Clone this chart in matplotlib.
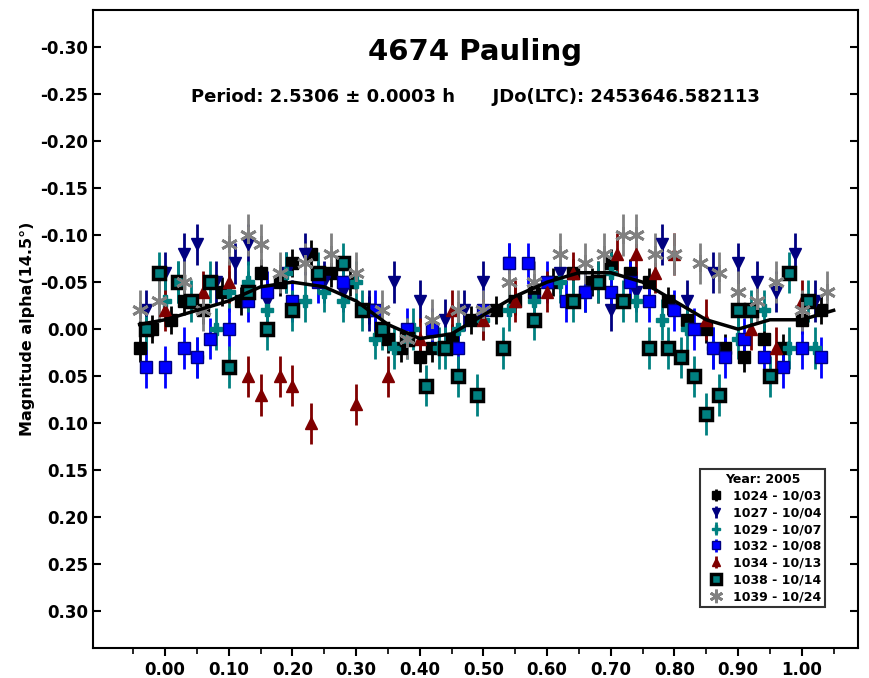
import matplotlib
matplotlib.use("Agg")
import matplotlib.pyplot as plt

# --- data (phase, magnitude, error) ---
s1024_x = [-0.04,-0.02,0.01,0.03,0.06,0.09,0.12,0.15,0.18,0.20,0.23,0.26,0.29,0.32,0.35,0.37,0.40,0.42,0.45,0.48,0.52,0.55,0.58,0.61,0.64,0.67,0.70,0.73,0.76,0.79,0.82,0.85,0.88,0.91,0.94,0.97,1.00,1.03]
s1024_y = [0.02,0.00,-0.01,-0.03,-0.02,-0.04,-0.03,-0.06,-0.05,-0.07,-0.08,-0.06,-0.05,-0.02,0.01,0.02,0.03,0.02,0.01,-0.01,-0.02,-0.03,-0.04,-0.05,-0.06,-0.05,-0.07,-0.06,-0.05,-0.03,-0.01,0.00,0.02,0.03,0.01,0.02,-0.01,-0.02]
s1027_x = [-0.03,0.00,0.03,0.05,0.08,0.11,0.13,0.16,0.19,0.22,0.25,0.28,0.32,0.36,0.40,0.44,0.47,0.50,0.54,0.58,0.62,0.66,0.70,0.74,0.78,0.82,0.86,0.90,0.93,0.96,0.99,1.02]
s1027_y = [-0.02,-0.06,-0.08,-0.09,-0.05,-0.07,-0.09,-0.03,-0.06,-0.08,-0.05,-0.04,-0.02,-0.05,-0.03,-0.01,-0.02,-0.05,-0.07,-0.03,-0.06,-0.04,-0.02,-0.04,-0.09,-0.03,-0.06,-0.07,-0.05,-0.04,-0.08,-0.03]
s1029_x = [-0.03,0.00,0.02,0.05,0.08,0.10,0.13,0.16,0.19,0.22,0.25,0.28,0.30,0.33,0.36,0.39,0.43,0.46,0.50,0.54,0.58,0.62,0.66,0.70,0.74,0.78,0.82,0.86,0.90,0.94,0.98,1.02]
s1029_y = [0.00,-0.03,-0.05,0.03,0.00,-0.04,-0.05,-0.02,-0.06,-0.03,-0.04,-0.03,-0.05,0.01,0.02,0.00,0.02,0.00,-0.01,-0.02,-0.03,-0.05,-0.04,-0.06,-0.03,-0.01,0.00,0.02,0.01,-0.02,0.02,0.02]
s1032_x = [-0.03,0.00,0.03,0.05,0.07,0.10,0.13,0.16,0.20,0.24,0.28,0.33,0.38,0.42,0.46,0.50,0.54,0.57,0.60,0.63,0.66,0.70,0.73,0.76,0.80,0.83,0.86,0.88,0.91,0.94,0.97,1.00,1.03]
s1032_y = [0.04,0.04,0.02,0.03,0.01,0.00,-0.03,-0.04,-0.03,-0.05,-0.05,-0.02,0.00,0.00,0.02,-0.02,-0.07,-0.07,-0.05,-0.03,-0.04,-0.04,-0.05,-0.03,-0.02,0.00,0.02,0.03,0.01,0.03,0.04,0.02,0.03]
s1034_x = [0.00,0.06,0.10,0.13,0.15,0.18,0.20,0.23,0.30,0.35,0.40,0.45,0.50,0.55,0.60,0.64,0.68,0.71,0.74,0.77,0.80,0.85,0.92,0.96,1.00]
s1034_y = [-0.02,-0.04,-0.05,0.05,0.07,0.05,0.06,0.10,0.08,0.05,0.01,-0.02,-0.01,-0.03,-0.04,-0.06,-0.05,-0.08,-0.08,-0.06,-0.08,-0.01,0.00,0.02,-0.03]
s1038_x = [-0.03,-0.01,0.02,0.04,0.07,0.10,0.13,0.16,0.20,0.24,0.28,0.31,0.34,0.38,0.41,0.44,0.46,0.49,0.53,0.58,0.64,0.68,0.72,0.76,0.79,0.81,0.83,0.85,0.87,0.90,0.92,0.95,0.98,1.01]
s1038_y = [0.00,-0.06,-0.05,-0.03,-0.05,0.04,-0.04,0.00,-0.02,-0.06,-0.07,-0.02,0.00,0.01,0.06,0.02,0.05,0.07,0.02,-0.01,-0.03,-0.05,-0.03,0.02,0.02,0.03,0.05,0.09,0.07,-0.02,-0.02,0.05,-0.06,-0.03]
s1039_x = [-0.04,-0.01,0.03,0.06,0.10,0.13,0.15,0.18,0.22,0.26,0.30,0.34,0.38,0.42,0.46,0.50,0.54,0.58,0.62,0.66,0.69,0.72,0.74,0.77,0.80,0.84,0.87,0.90,0.93,0.96,1.00,1.04]
s1039_y = [-0.02,-0.03,-0.05,-0.02,-0.09,-0.10,-0.09,-0.06,-0.07,-0.08,-0.06,-0.02,0.01,-0.01,-0.02,-0.02,-0.05,-0.05,-0.08,-0.07,-0.08,-0.10,-0.10,-0.08,-0.08,-0.07,-0.06,-0.04,-0.03,-0.05,-0.02,-0.04]
err_1024 = 0.015
err_other = 0.022

fit_x = [-0.04,0.00,0.05,0.10,0.15,0.20,0.25,0.30,0.35,0.40,0.45,0.50,0.55,0.60,0.65,0.70,0.75,0.80,0.85,0.90,0.95,1.00,1.05]
fit_y = [-0.005,-0.01,-0.02,-0.03,-0.045,-0.05,-0.045,-0.03,-0.005,0.01,0.005,-0.015,-0.035,-0.05,-0.06,-0.06,-0.05,-0.03,-0.01,0.00,-0.01,-0.01,-0.02]

y_ticks = [-0.30,-0.25,-0.20,-0.15,-0.10,-0.05,0.00,0.05,0.10,0.15,0.20,0.25,0.30]
x_ticks = [0.0,0.1,0.2,0.3,0.4,0.5,0.6,0.7,0.8,0.9,1.0]

series = [
    ("1024 - 10/03", s1024_x, s1024_y, dict(marker="s", color="black", mfc="black", mec="black", ms=8)),
    ("1027 - 10/04", s1027_x, s1027_y, dict(marker="v", color="#000080", mfc="#000080", mec="#000080", ms=8)),
    ("1029 - 10/07", s1029_x, s1029_y, dict(marker="P", color="#008080", mfc="#008080", mec="#008080", ms=8)),
    ("1032 - 10/08", s1032_x, s1032_y, dict(marker="s", color="#0000ff", mfc="#0000ff", mec="#000080", ms=8)),
    ("1034 - 10/13", s1034_x, s1034_y, dict(marker="^", color="#800000", mfc="#800000", mec="#800000", ms=8)),
    ("1038 - 10/14", s1038_x, s1038_y, dict(marker="s", color="#008080", mfc="#008080", mec="black", ms=9, mew=2.5)),
    ("1039 - 10/24", s1039_x, s1039_y, dict(marker=(6, 2, 0), color="gray", mfc="gray", mec="gray", ms=12, mew=2)),
]

plt.rcParams["font.family"] = "DejaVu Sans"
plt.rcParams["font.weight"] = "bold"
fig = plt.figure(figsize=(8.7, 6.78), dpi=100)
ax = fig.add_axes([0.107, 0.044, 0.879, 0.941])

for label, xs, ys, st in series:
    e = err_1024 if label.startswith("1024") else err_other
    ax.errorbar(xs, ys, yerr=e, linestyle="none", elinewidth=2, capsize=0, label=label, **st)

ax.plot(fit_x, fit_y, color="black", lw=2.5, zorder=5)

ax.set_xlim(-0.113, 1.088)
ax.set_ylim(0.339, -0.339)
ax.set_yticks(y_ticks)
ax.set_yticklabels([f"{v:.2f}" for v in y_ticks], fontsize=12, fontweight="bold")
ax.set_xticks(x_ticks)
ax.set_xticklabels([f"{v:.2f}" for v in x_ticks], fontsize=12, fontweight="bold")
ax.set_xticks([v + 0.05 for v in x_ticks[:-1]] + [-0.05, 1.05], minor=True)
ax.tick_params(axis="both", which="major", direction="out", length=6, width=1.5)
ax.tick_params(axis="x", which="minor", direction="out", length=4, width=1.2)
ax.tick_params(axis="y", right=True, which="major", direction="in")
for s in ax.spines.values():
    s.set_linewidth(1.5)
ax.set_ylabel("Magnitude alpha(14.5°)", fontsize=11.5, fontweight="bold")

ax.text(0.5, 0.934, "4674 Pauling", transform=ax.transAxes, ha="center", va="center", fontsize=21, fontweight="bold")
ax.text(0.5, 0.864, "Period: 2.5306 ± 0.0003 h      JDo(LTC): 2453646.582113", transform=ax.transAxes,
        ha="center", va="center", fontsize=13, fontweight="bold")

leg = ax.legend(loc="lower right", bbox_to_anchor=(0.965, 0.055), title="Year: 2005", fontsize=9,
                title_fontsize=9, frameon=True, fancybox=False, edgecolor="black", handletextpad=0.3,
                borderpad=0.3, labelspacing=0.3, markerscale=0.8)
leg.get_frame().set_linewidth(1.5)
for t in leg.get_texts():
    t.set_fontweight("bold")
leg.get_title().set_fontweight("bold")

fig.savefig("out.png", dpi=100)
